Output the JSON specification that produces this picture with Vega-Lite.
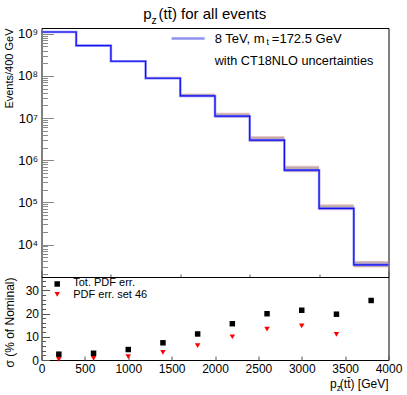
{
  "$schema": "https://vega.github.io/schema/vega-lite/v6.json",
  "padding": {"left": 1.5, "top": 6, "right": 0, "bottom": 0},
  "spacing": 0,
  "bounds": "flush",
  "config": {
    "font": "Liberation Sans",
    "view": {"stroke": "#000", "strokeWidth": 1},
    "axis": {"grid": false, "domain": false, "labelFont": "Liberation Sans", "titleFont": "Liberation Sans", "titleFontWeight": "normal", "labelColor": "#000", "titleColor": "#000", "labelFontSize": 12, "labelOverlap": false, "labelFlush": false, "labelBound": false}
  },
  "datasets": {
    "bins": [
      {"lo": 0, "hi": 400, "g1": 1092000000, "g2": 1126000000, "p1": 1087000000, "p2": 1134000000},
      {"lo": 400, "hi": 800, "g1": 520000000, "g2": 540000000, "p1": 517000000, "p2": 545000000},
      {"lo": 800, "hi": 1200, "g1": 220000000, "g2": 233000000, "p1": 218000000, "p2": 236000000},
      {"lo": 1200, "hi": 1600, "g1": 86100000, "g2": 94400000, "p1": 84800000, "p2": 96300000},
      {"lo": 1600, "hi": 2000, "g1": 32500000, "g2": 37400000, "p1": 31700000, "p2": 38500000},
      {"lo": 2000, "hi": 2400, "g1": 10600000, "g2": 12800000, "p1": 10200000, "p2": 13300000},
      {"lo": 2400, "hi": 2800, "g1": 2810000, "g2": 3580000, "p1": 2700000, "p2": 3760000},
      {"lo": 2800, "hi": 3200, "g1": 543000, "g2": 704000, "p1": 518000, "p2": 741000},
      {"lo": 3200, "hi": 3600, "g1": 67800, "g2": 86100, "p1": 64900, "p2": 90300},
      {"lo": 3600, "hi": 4000, "g1": 2950, "g2": 3900, "p1": 2850, "p2": 4100}
    ],
    "steps": [
      {"x": 0, "v": 1100000000},
      {"x": 400, "v": 525000000},
      {"x": 800, "v": 223000000},
      {"x": 1200, "v": 88000000},
      {"x": 1600, "v": 33600000},
      {"x": 2000, "v": 11100000},
      {"x": 2400, "v": 2990000},
      {"x": 2800, "v": 580000},
      {"x": 3200, "v": 72000},
      {"x": 3600, "v": 3300},
      {"x": 4000, "v": 3300}
    ],
    "pcts": [
      {"x": 200, "series": "Tot. PDF err.", "value": 2.5},
      {"x": 600, "series": "Tot. PDF err.", "value": 2.9},
      {"x": 1000, "series": "Tot. PDF err.", "value": 4.5},
      {"x": 1400, "series": "Tot. PDF err.", "value": 7.4},
      {"x": 1800, "series": "Tot. PDF err.", "value": 11.2},
      {"x": 2200, "series": "Tot. PDF err.", "value": 15.6},
      {"x": 2600, "series": "Tot. PDF err.", "value": 19.9},
      {"x": 3000, "series": "Tot. PDF err.", "value": 21.4},
      {"x": 3400, "series": "Tot. PDF err.", "value": 19.7},
      {"x": 3800, "series": "Tot. PDF err.", "value": 25.6},
      {"x": 200, "series": "PDF err. set 46", "value": 0.3},
      {"x": 600, "series": "PDF err. set 46", "value": 0.7},
      {"x": 1000, "series": "PDF err. set 46", "value": 1.4},
      {"x": 1400, "series": "PDF err. set 46", "value": 3.3},
      {"x": 1800, "series": "PDF err. set 46", "value": 6.2},
      {"x": 2200, "series": "PDF err. set 46", "value": 10.0},
      {"x": 2600, "series": "PDF err. set 46", "value": 13.3},
      {"x": 3000, "series": "PDF err. set 46", "value": 14.7},
      {"x": 3400, "series": "PDF err. set 46", "value": 11.0}
    ]
  },
  "vconcat": [
    {
      "width": 347,
      "height": 249,
      "layer": [
        {
          "data": {"name": "bins"},
          "mark": {"type": "rect", "color": "#d98080", "opacity": 0.45},
          "encoding": {
            "x": {"field": "lo", "type": "quantitative", "scale": {"domain": [0, 4000], "nice": false, "zero": false},
              "axis": {"title": null, "labels": false, "values": [0,100,200,300,400,500,600,700,800,900,1000,1100,1200,1300,1400,1500,1600,1700,1800,1900,2000,2100,2200,2300,2400,2500,2600,2700,2800,2900,3000,3100,3200,3300,3400,3500,3600,3700,3800,3900,4000],
                "tickColor": "#555", "tickSize": {"condition": {"test": "indexof([0,500,1000,1500,2000,2500,3000,3500,4000], datum.value) >= 0", "value": -6}, "value": -3}}},
            "x2": {"field": "hi"},
            "y": {"field": "p1", "type": "quantitative", "scale": {"type": "log", "domain": [1700, 1370000000], "nice": false},
              "axis": {"title": "Events/400 GeV", "titleFontSize": 11, "titleAnchor": "end", "titleX": -32.5, "titleBaseline": "middle", "labelOverlap": false,
                "values": [2000,3000,4000,5000,6000,7000,8000,9000,10000,20000,30000,40000,50000,60000,70000,80000,90000,100000,200000,300000,400000,500000,600000,700000,800000,900000,1000000,2000000,3000000,4000000,5000000,6000000,7000000,8000000,9000000,10000000,20000000,30000000,40000000,50000000,60000000,70000000,80000000,90000000,100000000,200000000,300000000,400000000,500000000,600000000,700000000,800000000,900000000,1000000000],
                "labelExpr": "datum.value == 10000 ? '10⁴' : datum.value == 100000 ? '10⁵' : datum.value == 1000000 ? '10⁶' : datum.value == 10000000 ? '10⁷' : datum.value == 100000000 ? '10⁸' : datum.value == 1000000000 ? '10⁹' : ''",
                "labelFontSize": 13, "labelPadding": 16, "tickColor": "#888",
                "tickSize": {"condition": {"test": "indexof([10000,100000,1000000,10000000,100000000,1000000000], datum.value) >= 0", "value": -12}, "value": -6}}},
            "y2": {"field": "p2"}
          }
        },
        {
          "data": {"name": "bins"},
          "mark": {"type": "rect", "color": "#909090", "opacity": 0.5},
          "encoding": {
            "x": {"field": "lo", "type": "quantitative"},
            "x2": {"field": "hi"},
            "y": {"field": "g1", "type": "quantitative"},
            "y2": {"field": "g2"}
          }
        },
        {
          "data": {"name": "steps"},
          "mark": {"type": "line", "interpolate": "step-after", "color": "#7f7fff", "strokeWidth": 2.5, "opacity": 0.85},
          "encoding": {
            "x": {"field": "x", "type": "quantitative"},
            "y": {"field": "v", "type": "quantitative"}
          }
        },
        {
          "data": {"name": "steps"},
          "mark": {"type": "line", "interpolate": "step-after", "color": "#1010f0", "strokeWidth": 1.2},
          "encoding": {
            "x": {"field": "x", "type": "quantitative"},
            "y": {"field": "v", "type": "quantitative"}
          }
        },
        {
          "data": {"values": [{}]},
          "mark": {"type": "rule", "color": "#9090ee", "strokeWidth": 2.5},
          "encoding": {
            "x": {"datum": 1500, "type": "quantitative"},
            "x2": {"datum": 1881},
            "y": {"datum": 770000000, "type": "quantitative"}
          }
        },
        {
          "data": {"values": [{}]},
          "mark": {"type": "text", "text": "8 TeV, m", "align": "left", "baseline": "alphabetic", "fontSize": 13, "color": "#000"},
          "encoding": {"x": {"datum": 1996, "type": "quantitative"}, "y": {"datum": 605000000, "type": "quantitative"}}
        },
        {
          "data": {"values": [{}]},
          "mark": {"type": "text", "text": "t", "align": "left", "baseline": "alphabetic", "fontSize": 9, "color": "#000"},
          "encoding": {"x": {"datum": 2595, "type": "quantitative"}, "y": {"datum": 533000000, "type": "quantitative"}}
        },
        {
          "data": {"values": [{}]},
          "mark": {"type": "text", "text": "=172.5 GeV", "align": "left", "baseline": "alphabetic", "fontSize": 13, "color": "#000"},
          "encoding": {"x": {"datum": 2655, "type": "quantitative"}, "y": {"datum": 605000000, "type": "quantitative"}}
        },
        {
          "data": {"values": [{}]},
          "mark": {"type": "text", "text": "with CT18NLO uncertainties", "align": "left", "baseline": "alphabetic", "fontSize": 12.7, "color": "#000"},
          "encoding": {"x": {"datum": 1996, "type": "quantitative"}, "y": {"datum": 184000000, "type": "quantitative"}}
        },
        {
          "data": {"values": [{}]},
          "mark": {"type": "text", "text": "p", "align": "left", "baseline": "alphabetic", "fontSize": 15, "color": "#000"},
          "encoding": {"x": {"datum": 1173, "type": "quantitative"}, "y": {"datum": 2240000000, "type": "quantitative"}}
        },
        {
          "data": {"values": [{}]},
          "mark": {"type": "text", "text": "z", "align": "left", "baseline": "alphabetic", "fontSize": 10.5, "color": "#000"},
          "encoding": {"x": {"datum": 1269, "type": "quantitative"}, "y": {"datum": 1710000000, "type": "quantitative"}}
        },
        {
          "data": {"values": [{}]},
          "mark": {"type": "text", "text": "(tt̄) for all events", "align": "left", "baseline": "alphabetic", "fontSize": 15, "color": "#000"},
          "encoding": {"x": {"datum": 1350, "type": "quantitative"}, "y": {"datum": 2240000000, "type": "quantitative"}}
        }
      ]
    },
    {
      "width": 347,
      "height": 83,
      "resolve": {"axis": {"y": "independent"}},
      "layer": [
        {
          "data": {"name": "pcts"},
          "mark": {"type": "point", "filled": true, "size": 30, "opacity": 1},
          "encoding": {
            "x": {"field": "x", "type": "quantitative", "scale": {"domain": [0, 4000], "nice": false},
              "axis": {"title": null, "labelOverlap": false, "values": [0,500,1000,1500,2000,2500,3000,3500,4000], "format": "d",
                "labelPadding": 7, "tickColor": "#555", "tickSize": -4}},
            "y": {"field": "value", "type": "quantitative", "scale": {"domain": [0, 35.7], "nice": false},
              "axis": {"title": "σ (% of Nominal)", "titleFontSize": 12, "titleAnchor": "end", "titleX": -32.5, "titleBaseline": "middle", "labelOverlap": false,
                "values": [0,10,20,30], "format": "d", "labelPadding": 11, "tickColor": "#555", "tickSize": -8}},
            "shape": {"field": "series", "type": "nominal", "scale": {"domain": ["Tot. PDF err.", "PDF err. set 46"], "range": ["square", "triangle-down"]}, "legend": null},
            "color": {"field": "series", "type": "nominal", "scale": {"domain": ["Tot. PDF err.", "PDF err. set 46"], "range": ["#000000", "#ff0000"]}, "legend": null}
          }
        },
        {
          "data": {"values": [{}]},
          "mark": {"type": "point", "shape": "square", "filled": true, "size": 30, "opacity": 1, "color": "#000"},
          "encoding": {"x": {"datum": 181, "type": "quantitative"},
            "y": {"datum": 32.7, "type": "quantitative",
              "axis": {"orient": "left", "title": null, "labels": false, "values": [2,4,6,8,12,14,16,18,22,24,26,28,32,34], "tickColor": "#555", "tickSize": -4}}}
        },
        {
          "data": {"values": [{}]},
          "mark": {"type": "point", "shape": "triangle-down", "filled": true, "size": 30, "opacity": 1, "color": "#ff0000"},
          "encoding": {"x": {"datum": 181, "type": "quantitative"}, "y": {"datum": 28.2, "type": "quantitative", "axis": null}}
        },
        {
          "data": {"values": [{}]},
          "mark": {"type": "text", "text": "Tot. PDF err.", "align": "left", "baseline": "alphabetic", "fontSize": 11, "color": "#000"},
          "encoding": {"x": {"datum": 366, "type": "quantitative"}, "y": {"datum": 31.7, "type": "quantitative", "axis": null}}
        },
        {
          "data": {"values": [{}]},
          "mark": {"type": "text", "text": "PDF err. set 46", "align": "left", "baseline": "alphabetic", "fontSize": 11, "color": "#000"},
          "encoding": {"x": {"datum": 366, "type": "quantitative"}, "y": {"datum": 26.7, "type": "quantitative", "axis": null}}
        },
        {
          "data": {"values": [{}]},
          "mark": {"type": "text", "text": "p", "align": "left", "baseline": "alphabetic", "fontSize": 12, "color": "#000"},
          "encoding": {"x": {"datum": 3327, "type": "quantitative"}, "y": {"datum": -12, "type": "quantitative", "axis": null}}
        },
        {
          "data": {"values": [{}]},
          "mark": {"type": "text", "text": "z", "align": "left", "baseline": "alphabetic", "fontSize": 9, "color": "#000"},
          "encoding": {"x": {"datum": 3404, "type": "quantitative"}, "y": {"datum": -13.3, "type": "quantitative", "axis": null}}
        },
        {
          "data": {"values": [{}]},
          "mark": {"type": "text", "text": "(tt̄) [GeV]", "align": "right", "baseline": "alphabetic", "fontSize": 12, "color": "#000"},
          "encoding": {"x": {"datum": 4000, "type": "quantitative"}, "y": {"datum": -12, "type": "quantitative", "axis": null}}
        }
      ]
    }
  ]
}
